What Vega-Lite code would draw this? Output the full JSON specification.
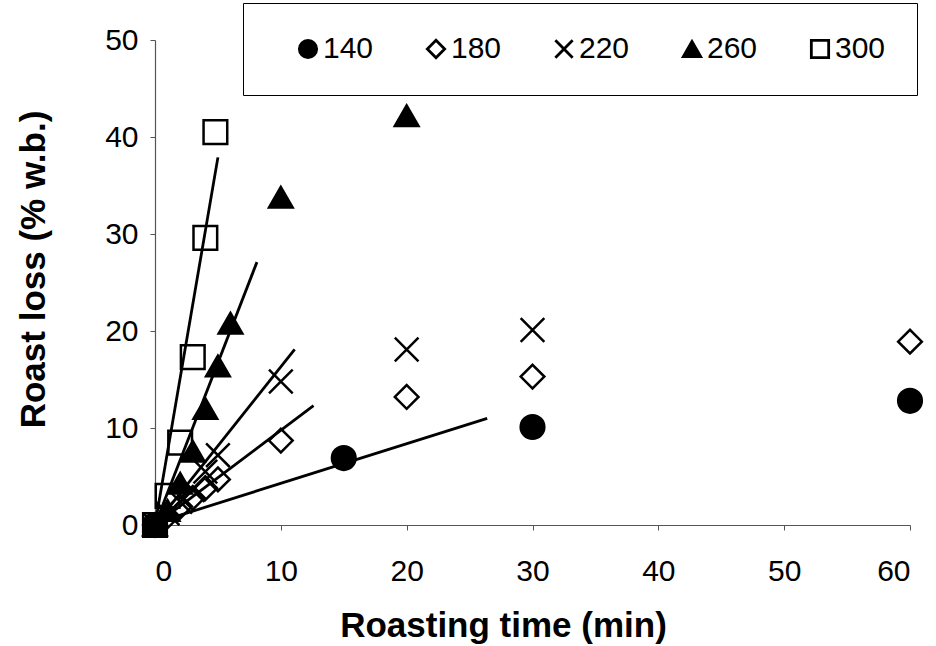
{
  "$schema": "https://vega.github.io/schema/vega-lite/v6.json",
  "autosize": "none",
  "width": 755,
  "height": 485,
  "padding": {"left": 155, "top": 40, "right": 26, "bottom": 121},
  "background": "white",
  "config": {
    "view": {"stroke": null},
    "font": "Liberation Sans",
    "axis": {
      "grid": false,
      "domainColor": "#555555",
      "domainWidth": 1.2,
      "tickColor": "#555555",
      "tickSize": 5,
      "labelFont": "Liberation Sans",
      "labelFontSize": 30,
      "labelColor": "black",
      "titleFont": "Liberation Sans",
      "titleFontSize": 35,
      "titleFontWeight": "bold",
      "titleColor": "black"
    }
  },
  "datasets": {
    "pts": [
      {"temp": "140", "t": 0, "loss": 0},
      {"temp": "140", "t": 15, "loss": 6.9},
      {"temp": "140", "t": 30, "loss": 10.1},
      {"temp": "140", "t": 60, "loss": 12.8},
      {"temp": "180", "t": 0, "loss": 0},
      {"temp": "180", "t": 1, "loss": 0.9},
      {"temp": "180", "t": 2, "loss": 1.9},
      {"temp": "180", "t": 3, "loss": 2.8},
      {"temp": "180", "t": 4, "loss": 3.8},
      {"temp": "180", "t": 5, "loss": 4.7},
      {"temp": "180", "t": 10, "loss": 8.7},
      {"temp": "180", "t": 20, "loss": 13.2},
      {"temp": "180", "t": 30, "loss": 15.3},
      {"temp": "180", "t": 60, "loss": 18.9},
      {"temp": "220", "t": 0, "loss": 0},
      {"temp": "220", "t": 1, "loss": 1.2},
      {"temp": "220", "t": 2, "loss": 2.4},
      {"temp": "220", "t": 3, "loss": 3.6},
      {"temp": "220", "t": 4, "loss": 5.5},
      {"temp": "220", "t": 5, "loss": 7.2},
      {"temp": "220", "t": 10, "loss": 14.8},
      {"temp": "220", "t": 20, "loss": 18.1},
      {"temp": "220", "t": 30, "loss": 20.1},
      {"temp": "260", "t": 0, "loss": 0},
      {"temp": "260", "t": 1, "loss": 1.5},
      {"temp": "260", "t": 2, "loss": 4.3},
      {"temp": "260", "t": 3, "loss": 7.6},
      {"temp": "260", "t": 4, "loss": 12.0},
      {"temp": "260", "t": 5, "loss": 16.4},
      {"temp": "260", "t": 6, "loss": 20.8},
      {"temp": "260", "t": 10, "loss": 33.8},
      {"temp": "260", "t": 20, "loss": 42.2},
      {"temp": "300", "t": 0, "loss": 0},
      {"temp": "300", "t": 1, "loss": 3.0},
      {"temp": "300", "t": 2, "loss": 8.5},
      {"temp": "300", "t": 3, "loss": 17.3},
      {"temp": "300", "t": 4, "loss": 29.6},
      {"temp": "300", "t": 4.8, "loss": 40.5}
    ],
    "fits": [
      {"temp": "140", "t": 0, "loss": 0.2},
      {"temp": "140", "t": 26.4, "loss": 11.0},
      {"temp": "180", "t": 0, "loss": 0},
      {"temp": "180", "t": 12.6, "loss": 12.3},
      {"temp": "220", "t": 0, "loss": 0},
      {"temp": "220", "t": 11.1, "loss": 18.1},
      {"temp": "260", "t": 0, "loss": 0},
      {"temp": "260", "t": 8.1, "loss": 27.1},
      {"temp": "300", "t": 0, "loss": 0},
      {"temp": "300", "t": 5.0, "loss": 37.9}
    ]
  },
  "layer": [
    {
      "data": {"name": "fits"},
      "mark": {"type": "line", "color": "black", "strokeWidth": 2.8},
      "encoding": {
        "x": {"field": "t", "type": "quantitative"},
        "y": {"field": "loss", "type": "quantitative"},
        "detail": {"field": "temp", "type": "nominal"}
      }
    },
    {
      "data": {"name": "pts"},
      "mark": {"type": "point", "strokeWidth": 2.5, "opacity": 1},
      "encoding": {
        "x": {
          "field": "t", "type": "quantitative",
          "scale": {"domain": [0, 60], "nice": false, "zero": true},
          "axis": {"values": [0, 10, 20, 30, 40, 50, 60], "title": "Roasting time (min)", "labelPadding": 26, "titleX": 348, "titleY": 111, "titleBaseline": "alphabetic"}
        },
        "y": {
          "field": "loss", "type": "quantitative",
          "scale": {"domain": [0, 50], "nice": false},
          "axis": {"values": [0, 10, 20, 30, 40, 50], "title": "Roast loss (% w.b.)", "labelPadding": 12, "titleX": -111, "titleY": 229, "titleBaseline": "alphabetic"}
        },
        "shape": {
          "field": "temp", "type": "nominal",
          "scale": {"domain": ["140", "180", "220", "260", "300"], "range": ["circle", "diamond", "M-1,-1L1,1M-1,1L1,-1", "triangle-up", "square"]},
          "legend": {
            "title": null, "orient": "none", "direction": "horizontal",
            "legendX": 88, "legendY": -37,
            "strokeColor": "black", "fillColor": "white",
            "padding": 31, "symbolSize": 300, "symbolStrokeWidth": 2.8,
            "symbolOffset": 19,
            "labelFontSize": 30, "labelFont": "Liberation Sans", "labelColor": "black",
            "labelOffset": 0, "columnPadding": 28,
            "labelExpr": "datum.value == '300' ? '300\u00a0\u00a0\u00a0\u00a0\u00a0\u00a0\u00a0\u00a0' : datum.label"
          }
        },
        "fill": {
          "field": "temp", "type": "nominal",
          "scale": {"domain": ["140", "180", "220", "260", "300"], "range": ["black", "transparent", "transparent", "black", "transparent"]},
          "legend": null
        },
        "stroke": {
          "field": "temp", "type": "nominal",
          "scale": {"domain": ["140", "180", "220", "260", "300"], "range": ["black", "black", "black", "black", "black"]},
          "legend": null
        },
        "size": {"value": 560}
      }
    }
  ]
}
